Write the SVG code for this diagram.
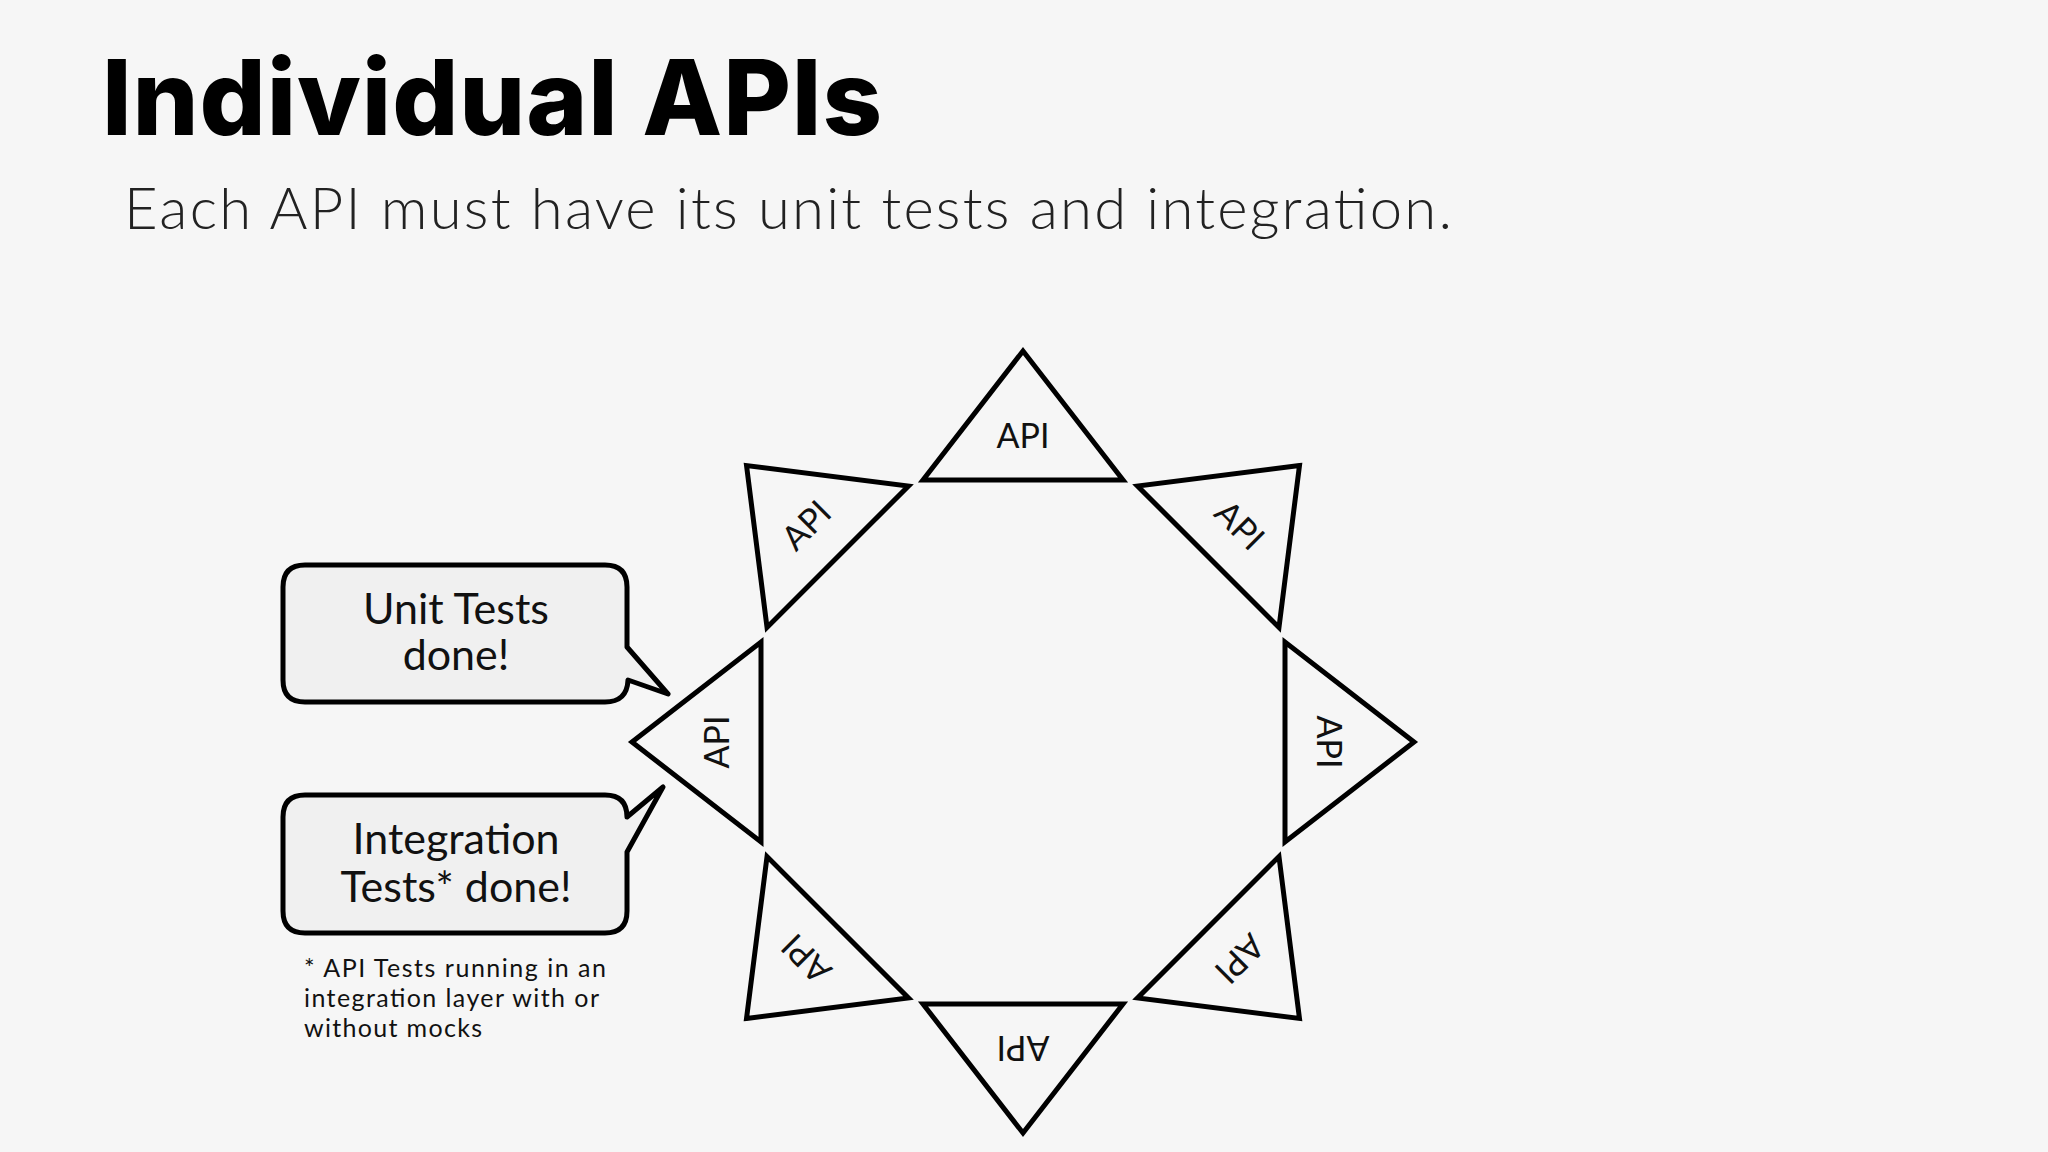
<svg xmlns="http://www.w3.org/2000/svg" width="2048" height="1152" viewBox="0 0 2048 1152">
<style>
.tri{fill:none;stroke:#000;stroke-width:5;stroke-linejoin:miter}
.api{font-family:"Lato","Liberation Sans",sans-serif;font-size:34px;fill:#111;text-anchor:middle;dominant-baseline:middle}
.bub{fill:#f0f0f0;stroke:#000;stroke-width:5;stroke-linejoin:round}
.bt{font-family:"Lato","Liberation Sans",sans-serif;font-size:43px;fill:#111;text-anchor:middle}
.fn{font-family:"Lato","Liberation Sans",sans-serif;font-size:25px;fill:#111}
</style>
<defs>
<g id="t"><polygon class="tri" points="0,-391 -100,-262 100,-262"/><text class="api" x="0" y="-303">API</text></g>
</defs>
<rect width="2048" height="1152" fill="#f6f6f6"/>
<text x="102" y="135" font-family="Inter,'Liberation Sans',sans-serif" font-weight="800" font-size="104" textLength="780" fill="#000">Individual APIs</text>
<text x="124" y="229" font-family="Lato,'Liberation Sans',sans-serif" font-weight="300" font-size="58" textLength="1328" fill="#222">Each API must have its unit tests and integration.</text>
<g transform="translate(1023,742)">
<g id="api0"><use href="#t"/></g>
<g id="api1"><use href="#t" transform="rotate(45)"/></g>
<g id="api2"><use href="#t" transform="rotate(90)"/></g>
<g id="api3"><use href="#t" transform="rotate(135)"/></g>
<g id="api4"><use href="#t" transform="rotate(180)"/></g>
<g id="api5"><use href="#t" transform="rotate(225)"/></g>
<g id="api6"><use href="#t" transform="rotate(270)"/></g>
<g id="api7"><use href="#t" transform="rotate(315)"/></g>
</g>
<g id="unit">
<path class="bub" d="M305,565 H605 Q627,565 627,587 V647 L668,694 L628,680 Q627,702 605,702 H305 Q283,702 283,680 V587 Q283,565 305,565 Z"/>
<text class="bt" x="456" y="624">Unit Tests</text>
<text class="bt" x="456" y="670">done!</text>
</g>
<g id="integ">
<path class="bub" d="M305,795 H605 Q627,795 627,817 L663,787 L627,852 V911 Q627,933 605,933 H305 Q283,933 283,911 V817 Q283,795 305,795 Z"/>
<text class="bt" x="456" y="854">Integration</text>
<text class="bt" x="456" y="902">Tests* done!</text>
</g>
<g id="note">
<text class="fn" x="304" y="977" textLength="302">* API Tests running in an</text>
<text class="fn" x="304" y="1007" textLength="295">integration layer with or</text>
<text class="fn" x="304" y="1037" textLength="178">without mocks</text>
</g>
<g id="connectors"/>
</svg>
